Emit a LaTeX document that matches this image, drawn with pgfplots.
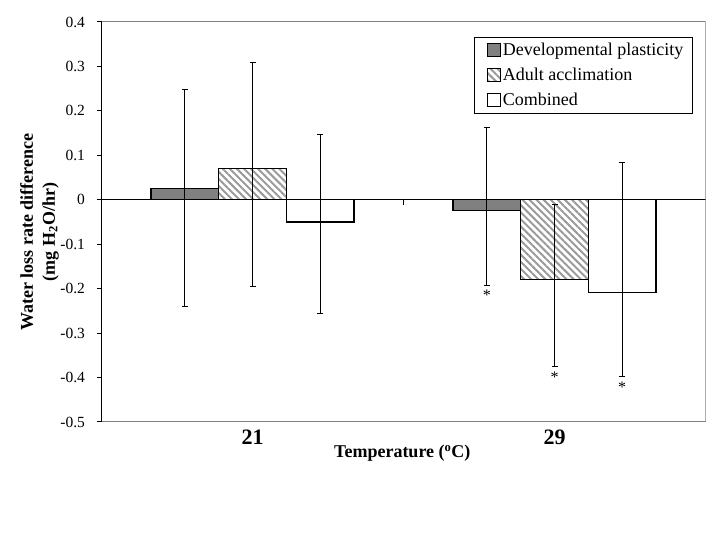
\documentclass[border=0pt]{standalone}
\usepackage{pgfplots}
\pgfplotsset{compat=1.18}
\usepackage{fontspec}
\setmainfont{Liberation Serif}
\usetikzlibrary{patterns.meta}
\definecolor{devgray}{HTML}{808080}
\definecolor{hatchgray}{HTML}{9A9A9A}
\definecolor{boxgray}{HTML}{808080}
\begin{document}
\begin{tikzpicture}
\useasboundingbox (0,0) rectangle (720bp,540bp);
\begin{axis}[
  at={(101.5bp,118bp)}, anchor=south west,
  width=604bp, height=400bp, scale only axis,
  ybar, bar shift=0pt, bar width=0.224,
  xmin=-0.5, xmax=1.5, ymin=-0.5, ymax=0.4,
  axis y line*=left, axis x line*=bottom,
  y axis line style={black, line width=1bp},
  x axis line style={boxgray, line width=1bp},
  xtick={0,1}, xticklabels={21,29},
  x tick style={draw=none},
  xticklabel style={font=\fontsize{22bp}{24bp}\selectfont\bfseries, yshift=1bp},
  ytick={-0.5,-0.4,...,0.41},
  y tick style={black, line width=1bp},
  tick align=outside, major tick length=5bp,
  yticklabel style={xshift=-8bp, font=\fontsize{15.5bp}{18bp}\selectfont, /pgf/number format/fixed, /pgf/number format/precision=1, /pgf/number format/assume math mode=true},
  extra y ticks={0}, extra y tick labels={},
  extra y tick style={grid=major, major grid style={black, line width=1.2bp}, tick style={draw=none}},
  ylabel={Water loss rate difference\\(mg H\textsubscript{2}O/hr)},
  ylabel style={at={(axis description cs:-0.1026,0.475)}, anchor=center, align=center, font=\fontsize{18bp}{22bp}\selectfont\bfseries},
  xlabel={Temperature (\textsuperscript{o}C)},
  xlabel style={at={(axis description cs:0.498,-0.0775)}, anchor=center, font=\fontsize{18bp}{20bp}\selectfont\bfseries},
  error bars/y dir=both, error bars/y explicit,
  error bars/error bar style={black, line width=1bp},
  error bars/error mark options={black, rotate=90, mark size=3bp, line width=1bp},
  legend style={at={(axis description cs:0.616,0.9625)}, anchor=north west, draw=black, line width=0.8bp, font=\fontsize{18bp}{20bp}\selectfont, row sep=7bp, inner xsep=7bp, inner ysep=4bp},
  legend cell align=left,
  legend image code/.code={\path (0bp,0bp); \draw[#1, line width=0.8bp] (6bp,-6.5bp) rectangle (19bp,6.5bp);},
]
\addplot[fill=devgray, draw=black, line width=1.2bp] coordinates {
  (-0.224,0.026) += (0,0.223) -= (0,0.267)
  (0.776,-0.024) += (0,0.1856) -= (0,0.168)
};
\addlegendentry{Developmental plasticity}
\addplot[draw=black, line width=1.2bp, pattern={Lines[angle=-45,distance=5bp,line width=2bp]}, pattern color=hatchgray] coordinates {
  (0,0.071) += (0,0.2375) -= (0,0.267)
  (1,-0.18) += (0,0.1683) -= (0,0.1956)
};
\addlegendentry{Adult acclimation}
\addplot[fill=white, draw=black, line width=1.2bp] coordinates {
  (0.224,-0.05) += (0,0.196) -= (0,0.207)
  (1.224,-0.208) += (0,0.2924) -= (0,0.19)
};
\addlegendentry{Combined}
\addplot[forget plot, draw=none, fill=none, error bars/y dir=none,
  nodes near coords={*},
  every node near coord/.append style={anchor=north, inner sep=0pt, yshift=-5bp, font=\fontsize{16bp}{18bp}\selectfont}] coordinates {
  (0.776,-0.192) (1,-0.3756) (1.224,-0.398)
};
\draw[black, line width=1bp] (axis cs:0.5,0) -- ([yshift=-5bp]axis cs:0.5,0);
\draw[boxgray, line width=1bp] (rel axis cs:0,1) -- (rel axis cs:1,1) -- (rel axis cs:1,0);
\end{axis}
\end{tikzpicture}
\end{document}
